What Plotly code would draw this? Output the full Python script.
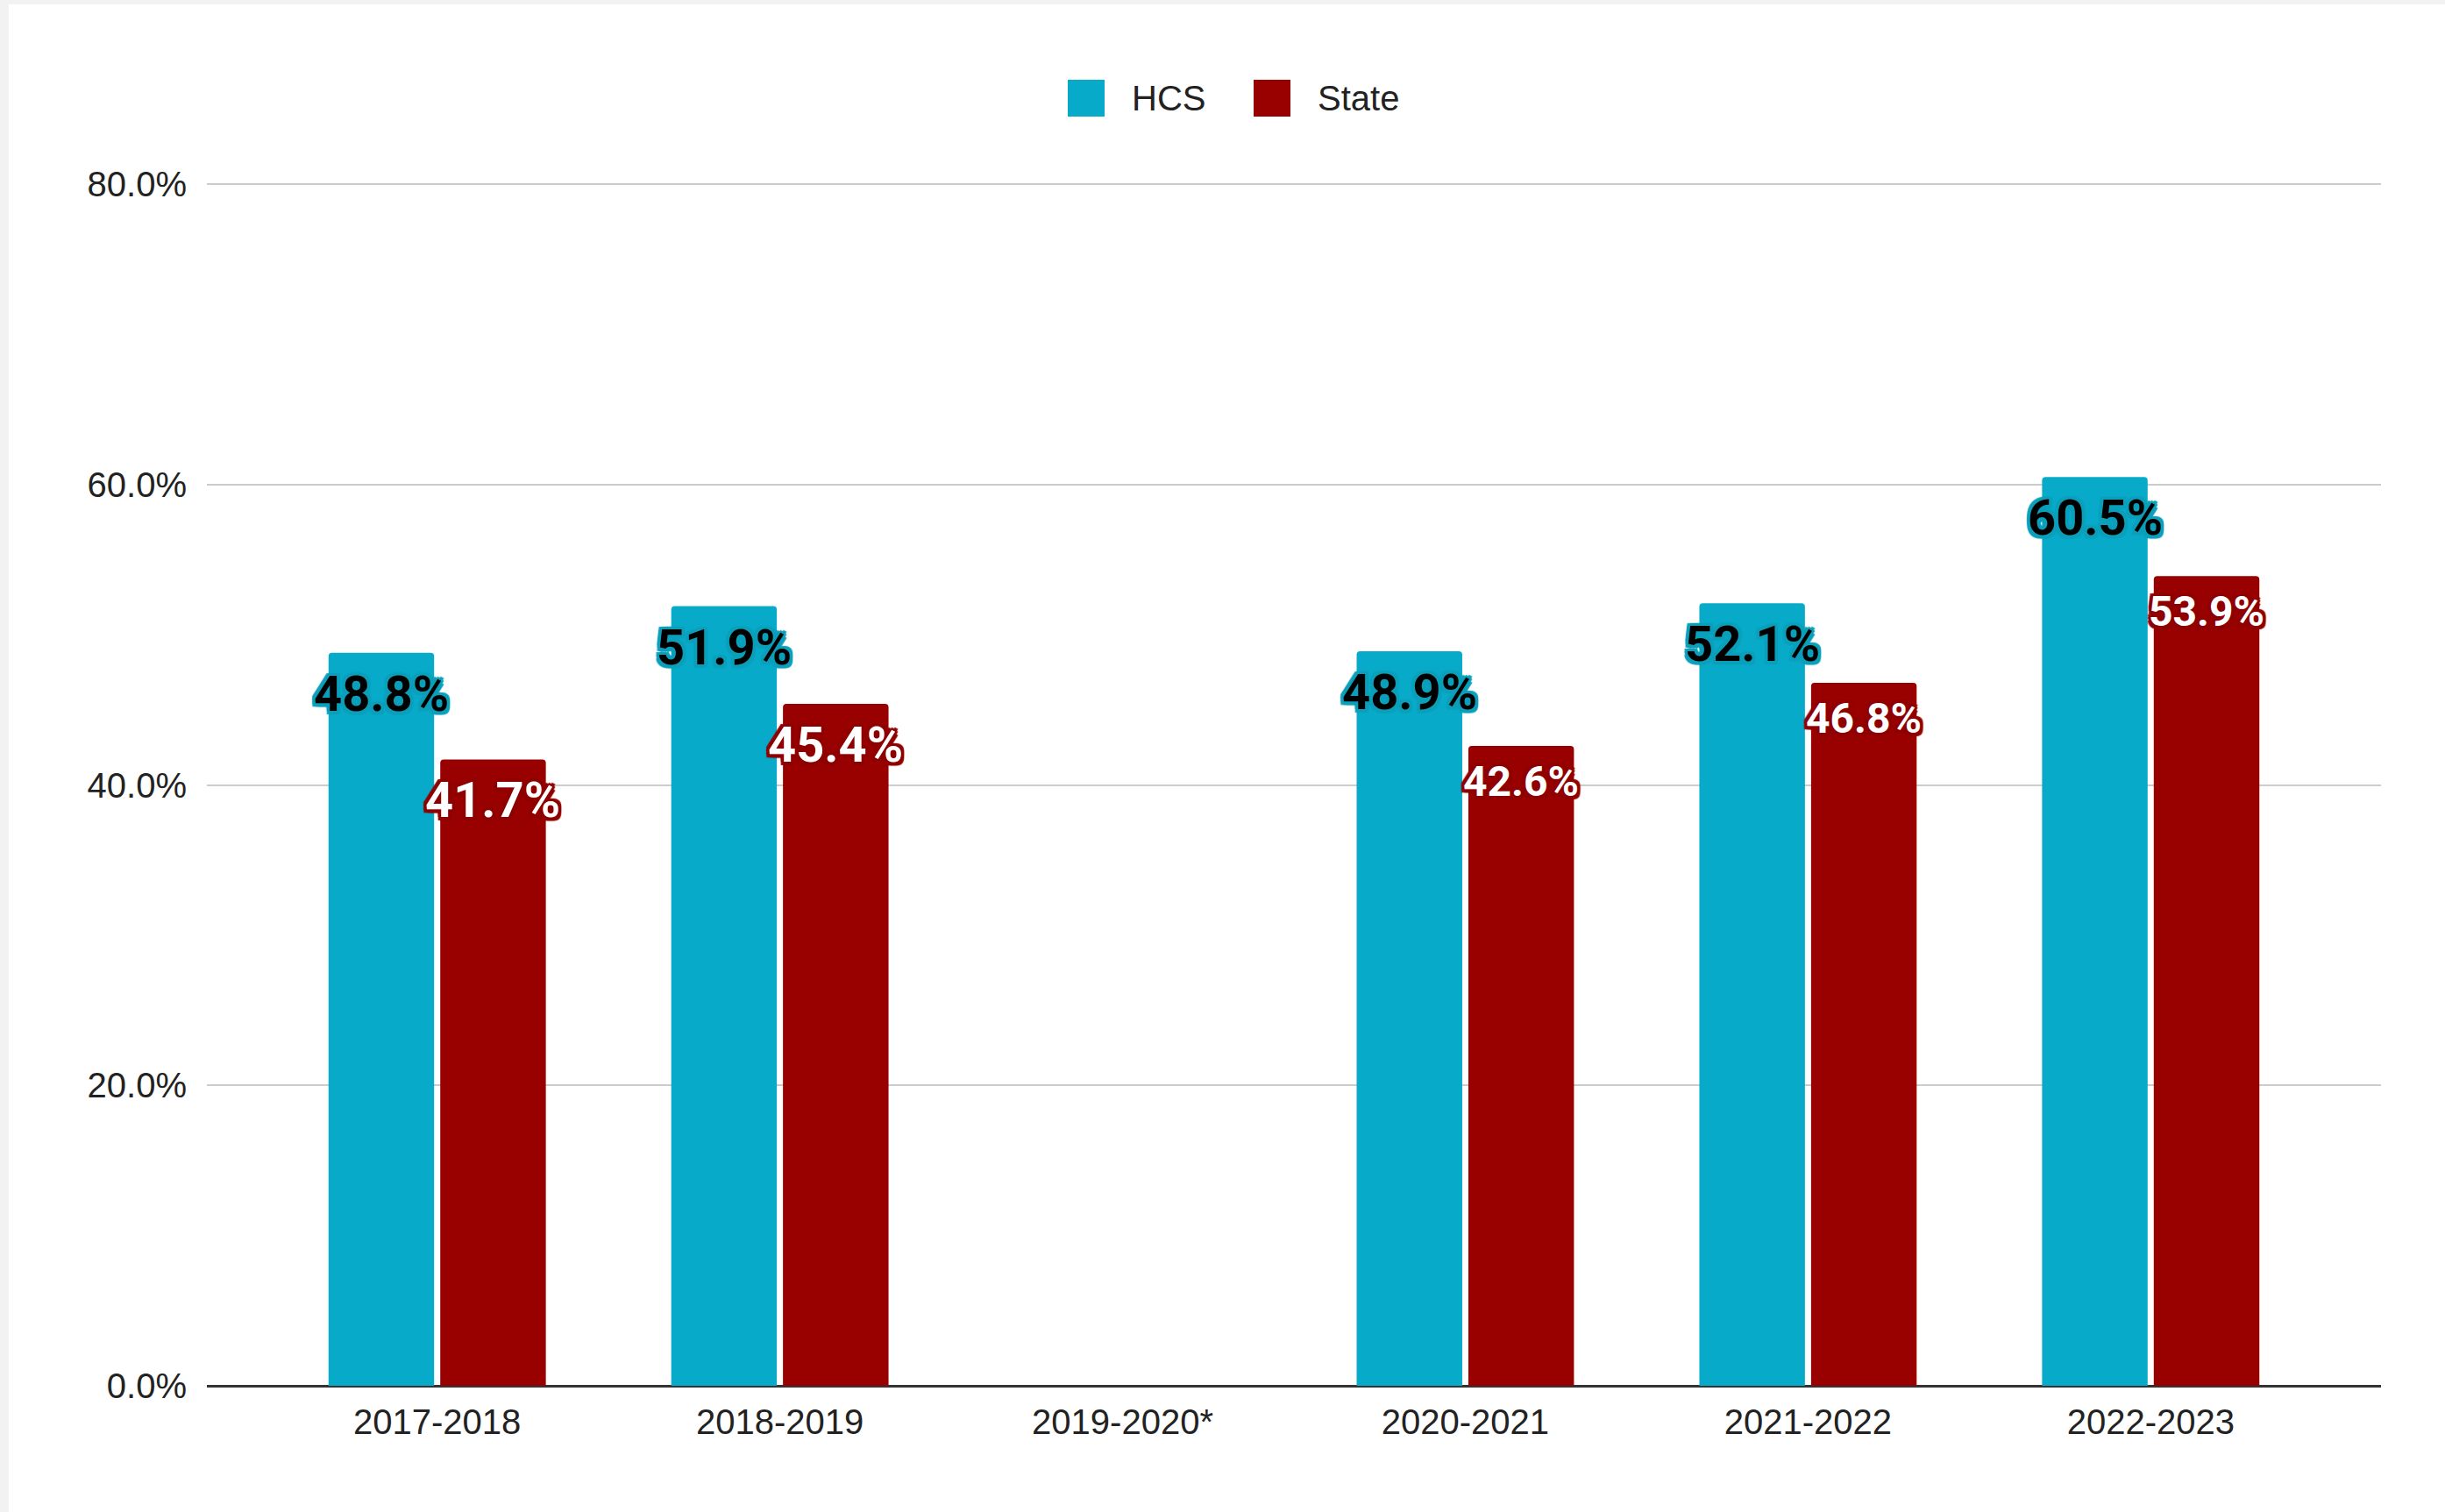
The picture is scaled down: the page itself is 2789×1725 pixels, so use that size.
import plotly.graph_objects as go

# ---- data ----
categories = ["2017-2018", "2018-2019", "2019-2020*", "2020-2021", "2021-2022", "2022-2023"]
hcs_values = [0.488, 0.519, None, 0.489, 0.521, 0.605]
state_values = [0.417, 0.454, None, 0.426, 0.468, 0.539]
series_names = ["HCS", "State"]
y_ticks = [0.0, 0.2, 0.4, 0.6, 0.8]

# ---- style ----
W, H = 2789, 1725
ML, MR, MT, MB = 236, 73, 208, 144
YMAX = 0.8012
HCS_COLOR = "#07abc9"
STATE_COLOR = "#990000"
BARGAP = 0.348
BARGROUPGAP = 0.055
XRANGE = [-0.672, 5.672]
AXIS_FONT = "Arial, 'Liberation Sans', sans-serif"
LABEL_FONT = "Roboto, 'Noto Sans', sans-serif"
hcs_label_sizes = [56, 56, 56, 56, 56, 56]
state_label_sizes = [56, 56, 48, 48, 48, 48]

PW = W - ML - MR
PH = H - MT - MB


def px_x(p):
    return (p - ML) / PW


def px_y(p):
    return (H - MB - p) / PH


def outline(color, r=3.5):
    offs = [(-r, -r), (r, -r), (-r, r), (r, r), (0, -r), (0, r), (-r, 0), (r, 0)]
    return ", ".join(f"{dx}px {dy}px 1px {color}" for dx, dy in offs)


fig = go.Figure()
fig.add_trace(go.Bar(x=categories, y=hcs_values, name=series_names[0],
                     marker=dict(color=HCS_COLOR, cornerradius=4, line=dict(width=0)),
                     hoverinfo="x+y+name"))
fig.add_trace(go.Bar(x=categories, y=state_values, name=series_names[1],
                     marker=dict(color=STATE_COLOR, cornerradius=4, line=dict(width=0)),
                     hoverinfo="x+y+name"))

# value labels placed via the axis scales (category index +/- group offset)
offset = (1 - BARGAP) / 4
annotations = []
for i, (h, s) in enumerate(zip(hcs_values, state_values)):
    if h is not None:
        fs = hcs_label_sizes[i]
        annotations.append(dict(
            x=i - offset, y=h, xref="x", yref="y", text=f"{h*100:.1f}%", showarrow=False,
            yanchor="middle", xanchor="center", yshift=-0.84 * fs,
            font=dict(family=LABEL_FONT, size=fs, color="#000000", weight="bold",
                      shadow=outline("#0b9fba"))))
    if s is not None:
        fs = state_label_sizes[i]
        annotations.append(dict(
            x=i + offset, y=s, xref="x", yref="y", text=f"{s*100:.1f}%", showarrow=False,
            yanchor="middle", xanchor="center", yshift=-0.84 * fs,
            font=dict(family=LABEL_FONT, size=fs, color="#ffffff", weight="bold",
                      shadow=outline("#8f0000"))))

# legend (drawn manually to get large swatches)
legend_items = [(series_names[0], HCS_COLOR, 1218), (series_names[1], STATE_COLOR, 1430)]
shapes = []
for name, color, x0 in legend_items:
    shapes.append(dict(type="rect", xref="paper", yref="paper",
                       x0=px_x(x0), x1=px_x(x0 + 42), y0=px_y(133), y1=px_y(91),
                       fillcolor=color, line=dict(width=0), layer="above"))
    annotations.append(dict(x=px_x(x0 + 71), y=px_y(112), xref="paper", yref="paper",
                            text=name, showarrow=False, xanchor="left", yanchor="middle",
                            font=dict(family=AXIS_FONT, size=40, color="#222222")))

# light gray page border (left & top)
shapes.append(dict(type="rect", xref="paper", yref="paper", x0=px_x(0), x1=px_x(10),
                   y0=px_y(H), y1=px_y(0), fillcolor="#f2f2f2", line=dict(width=0), layer="below"))
shapes.append(dict(type="rect", xref="paper", yref="paper", x0=px_x(0), x1=px_x(W),
                   y0=px_y(5), y1=px_y(0), fillcolor="#f2f2f2", line=dict(width=0), layer="below"))

fig.update_layout(
    width=W, height=H,
    margin=dict(l=ML, r=MR, t=MT, b=MB, pad=0),
    paper_bgcolor="#ffffff", plot_bgcolor="#ffffff",
    barmode="group", bargap=BARGAP, bargroupgap=BARGROUPGAP,
    showlegend=False,
    annotations=annotations, shapes=shapes,
    font=dict(family=AXIS_FONT, color="#222222"),
)
fig.update_xaxes(type="category", range=XRANGE, showgrid=False, showline=False,
                 tickfont=dict(family=AXIS_FONT, size=40, color="#222222"),
                 ticks="", ticklabelstandoff=14, zeroline=False, fixedrange=True)
fig.update_yaxes(range=[0, YMAX], tickvals=y_ticks, tickformat=".1%",
                 showgrid=True, gridcolor="#cccccc", gridwidth=2,
                 zeroline=True, zerolinecolor="#333333", zerolinewidth=3,
                 showline=False, ticks="", ticklabelstandoff=22,
                 tickfont=dict(family=AXIS_FONT, size=40, color="#222222"), fixedrange=True)

fig.write_html("out.html", config={"displayModeBar": False},
               post_script="document.body.style.margin='0px';document.body.style.overflow='hidden';")
